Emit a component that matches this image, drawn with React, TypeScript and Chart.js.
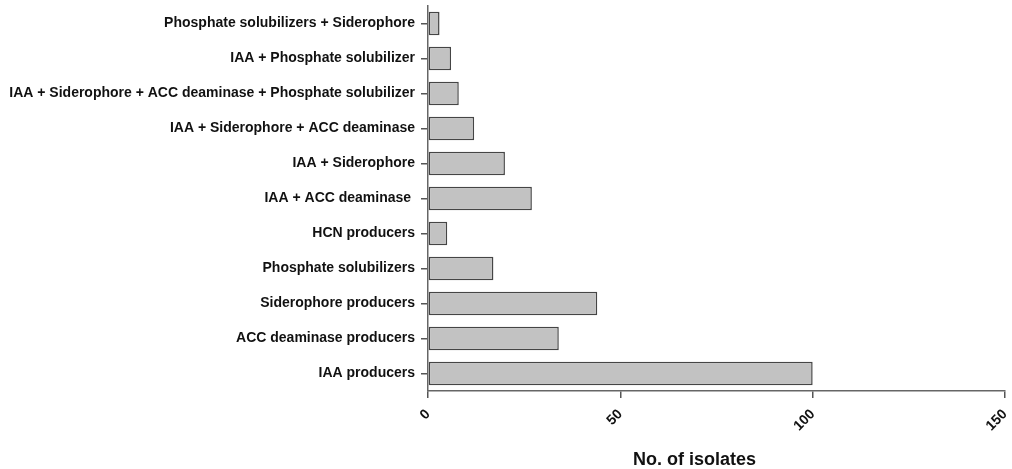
import React, { useEffect, useRef } from "react";
import { Chart, registerables } from "chart.js";

Chart.register(...registerables);

const categories = [
  "Phosphate solubilizers + Siderophore",
  "IAA + Phosphate solubilizer",
  "IAA + Siderophore + ACC deaminase + Phosphate solubilizer",
  "IAA + Siderophore + ACC deaminase",
  "IAA + Siderophore",
  "IAA + ACC deaminase ",
  "HCN producers",
  "Phosphate solubilizers",
  "Siderophore producers",
  "ACC deaminase producers",
  "IAA producers",
];

const isolates = [3, 6, 8, 12, 20, 27, 5, 17, 44, 34, 100];

const xTicks = [0, 50, 100, 150];
const xTitle = "No. of isolates";

const FONT = "'Liberation Sans', Arial, Helvetica, sans-serif";

const titlePlugin = {
  id: "xTitlePlugin",
  afterDraw(chart: any) {
    const { ctx, chartArea } = chart;
    ctx.save();
    ctx.font = `bold 18px ${FONT}`;
    ctx.fillStyle = "#111";
    ctx.textAlign = "center";
    ctx.textBaseline = "middle";
    const cx = chartArea.left + (chartArea.right - chartArea.left) * 0.462;
    ctx.fillText(xTitle, cx, chartArea.bottom + 69);
    ctx.restore();
  },
};

export default function App() {
  const ref = useRef<HTMLCanvasElement>(null);

  useEffect(() => {
    if (!ref.current) return;
    const chart = new Chart(ref.current, {
      type: "bar",
      data: {
        labels: categories,
        datasets: [
          {
            data: isolates,
            backgroundColor: "#c2c2c2",
            borderColor: "#454545",
            borderWidth: 1.5,
            borderSkipped: false,
            barPercentage: 0.67,
            categoryPercentage: 1,
          },
        ],
      },
      plugins: [titlePlugin],
      options: {
        indexAxis: "y",
        animation: false,
        responsive: false,
        maintainAspectRatio: false,
        layout: { padding: { left: 0, right: 7, top: 6, bottom: 0 } },
        plugins: {
          legend: { display: false },
          tooltip: { enabled: false },
          title: { display: false },
        },
        scales: {
          x: {
            type: "linear",
            min: 0,
            max: 150,
            afterBuildTicks: (scale: any) => {
              scale.ticks = xTicks.map((v) => ({ value: v }));
            },
            afterFit: (scale: any) => {
              scale.height = 78;
              scale.paddingLeft = 0;
              scale.paddingRight = 0;
            },
            ticks: {
              maxRotation: 45,
              minRotation: 45,
              padding: 8,
              color: "#111",
              font: { family: FONT, size: 14, weight: "bold" },
            },
            grid: {
              drawOnChartArea: false,
              drawTicks: true,
              tickLength: 7,
              color: "#555",
              lineWidth: 1.5,
            },
            border: { display: true, color: "#666", width: 1.5 },
          },
          y: {
            type: "category",
            afterFit: (scale: any) => {
              scale.width = 428;
              scale.paddingTop = 0;
              scale.paddingBottom = 0;
            },
            ticks: {
              padding: 6,
              color: "#111",
              font: { family: FONT, size: 14, weight: "bold" },
            },
            grid: {
              drawOnChartArea: false,
              drawTicks: true,
              tickLength: 7,
              color: "#555",
              lineWidth: 1.5,
              offset: false,
            },
            border: { display: true, color: "#666", width: 1.5 },
          },
        },
      },
    });
    return () => chart.destroy();
  }, []);

  return (
    <div style={{ position: "fixed", left: 0, top: 0, width: 1012, height: 469, background: "#fff" }}>
      <canvas ref={ref} width={1012} height={469} style={{ width: 1012, height: 469, display: "block" }} />
    </div>
  );
}
